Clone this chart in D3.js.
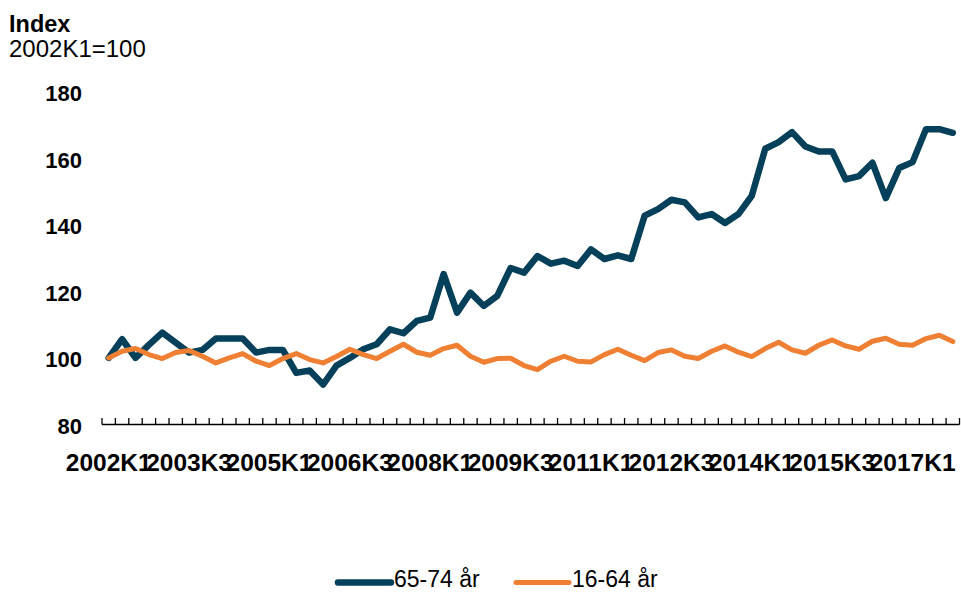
<!DOCTYPE html>
<html>
<head>
<meta charset="utf-8">
<script src="https://cdn.jsdelivr.net/npm/d3@7"></script>
<style>
  body { margin: 0; background: #fff; }
  svg { display: block; font-family: Arial, "Liberation Sans", sans-serif; }
</style>
</head>
<body>
<svg id="chart"></svg>
<script>
// Quarters 2002K1 - 2017K4
const quarters = [
  '2002K1','2002K2','2002K3','2002K4','2003K1','2003K2','2003K3','2003K4',
  '2004K1','2004K2','2004K3','2004K4','2005K1','2005K2','2005K3','2005K4',
  '2006K1','2006K2','2006K3','2006K4','2007K1','2007K2','2007K3','2007K4',
  '2008K1','2008K2','2008K3','2008K4','2009K1','2009K2','2009K3','2009K4',
  '2010K1','2010K2','2010K3','2010K4','2011K1','2011K2','2011K3','2011K4',
  '2012K1','2012K2','2012K3','2012K4','2013K1','2013K2','2013K3','2013K4',
  '2014K1','2014K2','2014K3','2014K4','2015K1','2015K2','2015K3','2015K4',
  '2016K1','2016K2','2016K3','2016K4','2017K1','2017K2','2017K3','2017K4'
];

const age65to74 = [
  100, 105.6, 100, 103.9, 107.6, 104.6, 101.6, 102.4,
  105.8, 105.8, 105.8, 101.6, 102.4, 102.4, 95.5, 96.2,
  92, 97.7, 100, 102.6, 104.1, 108.6, 107.4, 111.1,
  112.1, 125.2, 113.6, 119.6, 115.6, 118.6, 127, 125.6,
  130.6, 128.3, 129.2, 127.6, 132.6, 129.7, 130.8, 129.7,
  142.7, 144.7, 147.5, 146.7, 142.2, 143.2, 140.5, 143.2,
  148.7, 162.8, 164.8, 167.8, 163.5, 162, 162, 153.6,
  154.6, 158.6, 148, 157, 158.8, 168.7, 168.7, 167.6
];

const age16to64 = [
  100, 102, 102.8, 101, 99.8, 101.6, 102.2, 100.5,
  98.5, 100, 101.3, 99, 97.7, 99.8, 101.3, 99.5,
  98.5, 100.4, 102.6, 101, 99.8, 102, 104.1, 101.7,
  100.8, 102.8, 103.8, 100.5, 98.7, 99.8, 99.9, 97.7,
  96.5, 99, 100.5, 99, 98.8, 101, 102.6, 100.8,
  99.2, 101.6, 102.4, 100.5, 99.8, 102, 103.6, 101.7,
  100.4, 102.8, 104.7, 102.4, 101.4, 103.8, 105.4, 103.6,
  102.6, 105, 105.9, 104.1, 103.8, 105.8, 106.8, 104.9
];

const xTickLabels = ['2002K1','2003K3','2005K1','2006K3','2008K1','2009K3',
  '2011K1','2012K3','2014K1','2015K3','2017K1'];
const yTicks = [80, 100, 120, 140, 160, 180];

const seriesNames = ['65-74 år', '16-64 år'];
const seriesColors = ['#04405A', '#EF7F33'];

const width = 961, height = 592;

const svg = d3.select('#chart')
  .attr('width', width)
  .attr('height', height);

// Scales
const x = d3.scaleBand()
  .domain(quarters)
  .range([102, 959.5]);

const y = d3.scaleLinear()
  .domain([80, 180])
  .range([424.5, 91.5]);

// Title
svg.append('text')
  .attr('x', 9)
  .attr('y', 31.5)
  .style('font-size', '23.5px')
  .style('font-weight', 'bold')
  .text('Index');

svg.append('text')
  .attr('x', 9)
  .attr('y', 57)
  .style('font-size', '24px')
  .text('2002K1=100');

// Y axis labels (no axis line)
svg.append('g')
  .selectAll('text')
  .data(yTicks)
  .join('text')
  .attr('x', 82)
  .attr('y', d => y(d) + 9.5)
  .attr('text-anchor', 'end')
  .style('font-size', '22px')
  .style('font-weight', 'bold')
  .text(d => d);

// X axis with inside ticks on category boundaries
const xAxis = svg.append('g');

xAxis.append('line')
  .attr('x1', x.range()[0])
  .attr('x2', x.range()[1])
  .attr('y1', y(80))
  .attr('y2', y(80))
  .attr('stroke', '#000')
  .attr('stroke-width', 1.3);

const boundaries = quarters.map(q => x(q)).concat([x.range()[1]]);
xAxis.selectAll('line.tick')
  .data(boundaries)
  .join('line')
  .attr('class', 'tick')
  .attr('x1', d => d)
  .attr('x2', d => d)
  .attr('y1', y(80))
  .attr('y2', y(80) - 6.5)
  .attr('stroke', '#000')
  .attr('stroke-width', 1.3);

xAxis.selectAll('text')
  .data(xTickLabels)
  .join('text')
  .attr('x', d => x(d) + x.bandwidth() / 2)
  .attr('y', 470.5)
  .attr('text-anchor', 'middle')
  .style('font-size', '24.5px')
  .style('font-weight', 'bold')
  .text(d => d);

// Lines
const line = d3.line()
  .x((d, i) => x(quarters[i]) + x.bandwidth() / 2)
  .y(d => y(d));

const lineWidths = [6.5, 5];

[age65to74, age16to64].forEach((values, k) => {
  svg.append('path')
    .datum(values)
    .attr('fill', 'none')
    .attr('stroke', seriesColors[k])
    .attr('stroke-width', lineWidths[k])
    .attr('stroke-linejoin', 'round')
    .attr('stroke-linecap', 'round')
    .attr('d', line);
});

// Legend
const legendX = [338, 516];
seriesNames.forEach((name, i) => {
  const row = svg.append('g')
    .attr('transform', `translate(${legendX[i]}, 582.5)`);

  row.append('line')
    .attr('x1', 0)
    .attr('x2', 53)
    .attr('stroke', seriesColors[i])
    .attr('stroke-width', lineWidths[i])
    .attr('stroke-linecap', 'round');

  row.append('text')
    .attr('x', 56)
    .attr('y', 4.5)
    .style('font-size', '23px')
    .text(name);
});
</script>
</body>
</html>
